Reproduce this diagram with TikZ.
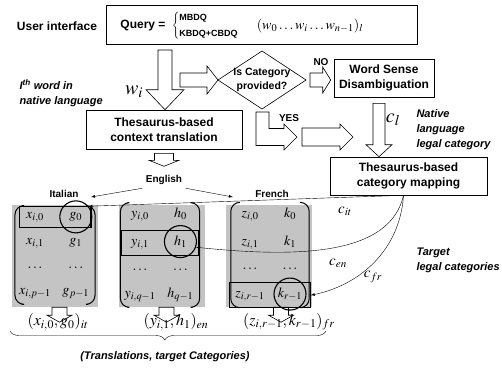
\documentclass[tikz,border=0pt]{standalone}
\usepackage{mathptmx}
\usepackage{fontspec}
\setmainfont{Liberation Sans}
\usetikzlibrary{arrows,matrix,fit,calc,decorations.pathreplacing}

\definecolor{matgray}{RGB}{196,196,196}
\tikzstyle{box} = [draw, line width=0.6pt, align=center, font=\fontsize{12}{15}\selectfont\bfseries]
\tikzstyle{lbl} = [font=\fontsize{12}{15}\selectfont\bfseries, align=left]
\tikzstyle{note} = [font=\fontsize{11}{15}\selectfont\bfseries\itshape, align=left]
\tikzstyle{lang} = [font=\fontsize{10}{12}\selectfont\bfseries]
\tikzstyle{fat} = [draw, line width=0.6pt, fill=white]
\tikzstyle{hollow} = [draw, line width=0.6pt]
\tikzstyle{graybox} = [fill=matgray, minimum width=86pt, minimum height=102pt]
\tikzstyle{mat} = [matrix of math nodes, nodes={minimum width=30pt, minimum height=20pt, inner sep=0pt, font=\fontsize{14}{16}\selectfont}, column sep=10pt, row sep=5pt, inner sep=1pt]
\tikzstyle{paren} = [line width=1pt, rounded corners=9pt]
\tikzstyle{hl} = [draw, line width=1.1pt]
\tikzstyle{ring} = [draw, circle, line width=1.1pt, minimum size=32pt, inner sep=0pt]
\tikzstyle{link} = [->, >=latex, line width=0.4pt]
\tikzstyle{clab} = [font=\fontsize{15}{15}\selectfont]
\tikzstyle{outf} = [font=\fontsize{16}{16}\selectfont]

% hollow block arrows: [style]{from}{tip}{half shaft}{half head}{head length}
\newcommand{\fatdown}[6][fat]{%
  \draw[#1] let \p1=(#2), \p2=(#3) in
    (\x1-#4pt,\y1) -- (\x1+#4pt,\y1) -- (\x1+#4pt,\y2+#6pt) -- (\x1+#5pt,\y2+#6pt)
    -- (\x1,\y2) -- (\x1-#5pt,\y2+#6pt) -- (\x1-#4pt,\y2+#6pt) -- cycle;}
\newcommand{\fatright}[6][fat]{%
  \draw[#1] let \p1=(#2), \p2=(#3) in
    (\x1,\y1+#4pt) -- (\x2-#6pt,\y1+#4pt) -- (\x2-#6pt,\y1+#5pt) -- (\x2,\y1)
    -- (\x2-#6pt,\y1-#5pt) -- (\x2-#6pt,\y1-#4pt) -- (\x1,\y1-#4pt) -- cycle;}
% round brackets around a matrix
\newcommand{\parens}[1]{%
  \draw[paren] ([xshift=4pt]#1.north west) -- ([xshift=-3pt]#1.north west)
    -- ([xshift=-3pt]#1.south west) -- ([xshift=4pt]#1.south west);
  \draw[paren] ([xshift=-4pt]#1.north east) -- ([xshift=3pt]#1.north east)
    -- ([xshift=3pt]#1.south east) -- ([xshift=-4pt]#1.south east);}

\begin{document}
\begin{tikzpicture}[x=1pt,y=-1pt]
\useasboundingbox (0,0) rectangle (502,367);

% top: query
\node[lbl] (ui) at (57,26) {User interface};
\node[box, minimum width=311pt, minimum height=39pt] (query) at (261.5,24.5) {};
\node[lbl] (qry) at (143,26) {Query =};
\node[anchor=west, inner sep=0pt, font=\fontsize{9}{11}\selectfont\bfseries] (qsel) at (172,26)
  {$\left\{\begin{tabular}{@{}l@{}}MBDQ\\[5pt]KBDQ+CBDQ\end{tabular}\right.$};
\node[outf, font=\fontsize{14}{16}\selectfont] (words) at (310,26) {$(w_0\ldots w_i\ldots w_{n-1})_l$};

\node[note, anchor=west] (ith) at (16,93) {I\textsuperscript{th} word in\\native language};
\node[font=\fontsize{20}{20}\selectfont] (wi) at (134,92) {$w_i$};

% boxes
\node[box, minimum width=156pt, minimum height=39pt] (ctx) at (164,129.5) {Thesaurus-based\\context translation};
\node[box, minimum width=100pt, minimum height=38pt] (wsd) at (384,78) {Word Sense\\Disambiguation};
\node[box, minimum width=157pt, minimum height=38pt] (catmap) at (408.5,176) {Thesaurus-based\\category mapping};

% decision
\node[font=\fontsize{10.5}{14}\selectfont\bfseries, align=center] (isc) at (262,80) {Is Category\\provided?};
\coordinate (dw) at ($(isc)+(-44,0)$);
\coordinate (dn) at ($(isc)+(0,-29)$);
\coordinate (de) at ($(isc)+(44,0)$);
\coordinate (ds) at ($(isc)+(0,29)$);
\draw[line width=0.6pt] (dw) -- (dn) -- (de) -- (ds) -- cycle;
\node[lang] (no) at (321,62) {NO};
\node[lang] (yes) at (289,118) {YES};

% hollow arrows
\coordinate (qa) at (165,50);
\fatdown{qa}{qa |- ctx.north}{7}{19}{20}
\coordinate (da) at (180,80);
\fatright{da}{dw}{7}{14}{11}
\fatright{$(de)+(4,0)$}{$(wsd.west)+(-3,0)$}{7}{13}{8}
\coordinate (wa) at ($(wsd.south)+(-5,6)$);
\fatdown{wa}{wa |- catmap.north}{6}{13}{12}
\coordinate (ya) at ($(ds)+(0.5,3)$);
\coordinate (yb) at (297,137);
\draw[fat] let \p1=(ya), \p2=(yb) in
  (\x1-6.5pt,\y1) -- (\x1+6.5pt,\y1) -- (\x1+6.5pt,\y2+8.5pt) -- (\x2-13pt,\y2+8.5pt)
  -- (\x2-13pt,\y2+13pt) -- (\x2,\y2) -- (\x2-13pt,\y2-13pt) -- (\x2-13pt,\y2-8.5pt)
  -- (\x1-6.5pt,\y2-8.5pt) -- cycle;
\coordinate (ym) at (302,137);
\fatright{ym}{$(ym)+(51,0)$}{9}{13}{13}

\node[font=\fontsize{20}{20}\selectfont] (cl) at (393,120) {$c_l$};
\node[note, anchor=west] (nlc) at (413,130) {Native\\language\\legal category};

% languages
\fatdown{$(ctx.south)+(0,4)$}{$(ctx.south)+(0,17)$}{9.5}{15}{6}
\node[lang] (eng) at (164,180) {English};
\node[lang] (ita) at (64,194) {Italian};
\node[lang] (fre) at (272,194) {French};
\draw[link] (eng.south west) -- ($(ita.east)+(9,3)$);
\draw[link] (eng.south east) -- ($(fre.west)+(-19,3)$);

% matrices
\node[graybox] (git) at (54.5,256) {};
\node[graybox] (gen) at (161.5,256) {};
\node[graybox] (gfr) at (269,256) {};
\matrix (mit) [mat] at (55,255) {
  x_{i,0} & g_0 \\ x_{i,1} & g_1 \\ \ldots & \ldots \\ x_{i,p-1} & g_{p-1} \\ };
\matrix (men) [mat] at (160,255) {
  y_{i,0} & h_0 \\ y_{i,1} & h_1 \\ \ldots & \ldots \\ y_{i,q-1} & h_{q-1} \\ };
\matrix (mfr) [mat] at (270,255) {
  z_{i,0} & k_0 \\ z_{i,1} & k_1 \\ \ldots & \ldots \\ z_{i,r-1} & k_{r-1} \\ };
\parens{mit}
\parens{men}
\parens{mfr}

\node[hl, fit=(mit-1-1)(mit-1-2), inner sep=0pt] (rit) {};
\node[ring] (cg) at (mit-1-2) {};
\node[hl, fit=(men-2-1)(men-2-2), inner xsep=3pt, inner ysep=1pt] (ren) {};
\node[ring] (ch) at (men-2-2) {};
\node[hl, fit=(mfr-4-1)(mfr-4-2), inner xsep=5pt, inner ysep=1pt] (rfr) {};
\node[ring] (ck) at (mfr-4-2) {};

% category links
\coordinate (src) at ($(catmap.south)+(-5,0)$);
\draw[link] (src) -- (cg.40);
\draw[link] (src) .. controls (390,255) and (300,258) .. (ch.-20);
\draw[link] (src) .. controls (400,250) and (360,285) .. (rfr.east);
\node[clab] (cit) at (345,211) {$c_{it}$};
\node[clab] (cen) at (338,263) {$c_{en}$};
\node[clab] (cfr) at (373,277) {$c_{fr}$};
\node[note, anchor=west] (tlc) at (413,260) {Target\\legal categories};

% outputs
\node[outf] (oit) at (58,322) {$(x_{i,0},g_0)_{it}$};
\node[outf] (oen) at (176,322) {$(y_{i,1},h_1)_{en}$};
\node[outf] (ofr) at (289,322) {$(z_{i,r-1},k_{r-1})_{fr}$};
\fatdown[hollow]{$(git.south)+(5,0)$}{$(git.south)+(5,15)$}{7.5}{12.5}{7}
\fatdown[hollow]{$(gen.south)+(5,0)$}{$(gen.south)+(5,15)$}{7.5}{12.5}{7}
\fatdown[hollow]{$(gfr.south)+(12,0)$}{$(gfr.south)+(12,15)$}{7.5}{12.5}{7}

\coordinate (bl) at (10,331);
\coordinate (br) at (326,331);
\draw[line width=0.4pt, decorate, decoration={brace, mirror, amplitude=9pt, aspect=0.49}] (bl) -- (br);
\node[note] (tra) at (165,357) {(Translations, target Categories)};
\end{tikzpicture}
\end{document}
